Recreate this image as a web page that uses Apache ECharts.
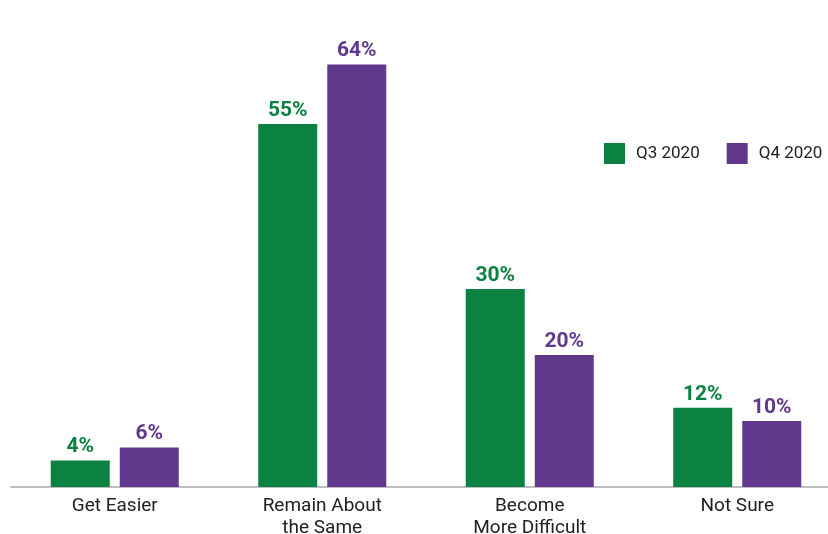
<!DOCTYPE html>
<html>
<head>
<meta charset="utf-8">
<script src="https://cdn.jsdelivr.net/npm/echarts@6/dist/echarts.min.js"></script>
<style>
html,body{margin:0;padding:0;background:#fff;}
#chart{width:828px;height:534px;}
</style>
</head>
<body>
<div id="chart"></div>
<script>
const categories = ['Get Easier', 'Remain About\nthe Same', 'Become\nMore Difficult', 'Not Sure'];
const seriesNames = ['Q3 2020', 'Q4 2020'];
const q3Values = [4, 55, 30, 12];
const q4Values = [6, 64, 20, 10];
const colors = ['#0b8241', '#62388c'];

const chart = echarts.init(document.getElementById('chart'), null, {renderer: 'canvas'});
const labelFont = {fontFamily: 'Roboto', fontWeight: 'bold', fontSize: 21};
chart.setOption({
  animation: false,
  legend: {
    left: 599, top: 138,
    itemWidth: 21, itemHeight: 21, itemGap: 27,
    icon: 'rect',
    textStyle: {fontFamily: 'Roboto', fontSize: 17, color: '#222', padding: [0, 0, 0, 6]},
    data: seriesNames
  },
  grid: {left: 11, top: 25, height: 462, width: 830, containLabel: false, outerBoundsMode: 'none'},
  xAxis: {
    type: 'category',
    data: categories,
    axisLine: {lineStyle: {color: '#bdbdbd', width: 2}},
    axisTick: {show: false},
    axisLabel: {fontFamily: 'Roboto', fontSize: 19, color: '#222', lineHeight: 22, margin: 8}
  },
  yAxis: {
    type: 'value', min: 0, max: 70,
    show: false,
    splitLine: {show: false}
  },
  series: [
    {
      name: seriesNames[0], type: 'bar', data: q3Values,
      barWidth: 59, barGap: '17%',
      itemStyle: {color: colors[0]},
      label: Object.assign({show: true, position: 'top', distance: 3, color: colors[0], formatter: '{c}%'}, labelFont)
    },
    {
      name: seriesNames[1], type: 'bar', data: q4Values,
      barWidth: 59, barGap: '17%',
      itemStyle: {color: colors[1]},
      label: Object.assign({show: true, position: 'top', distance: 3, color: colors[1], formatter: '{c}%'}, labelFont)
    }
  ]
});
</script>
</body>
</html>
